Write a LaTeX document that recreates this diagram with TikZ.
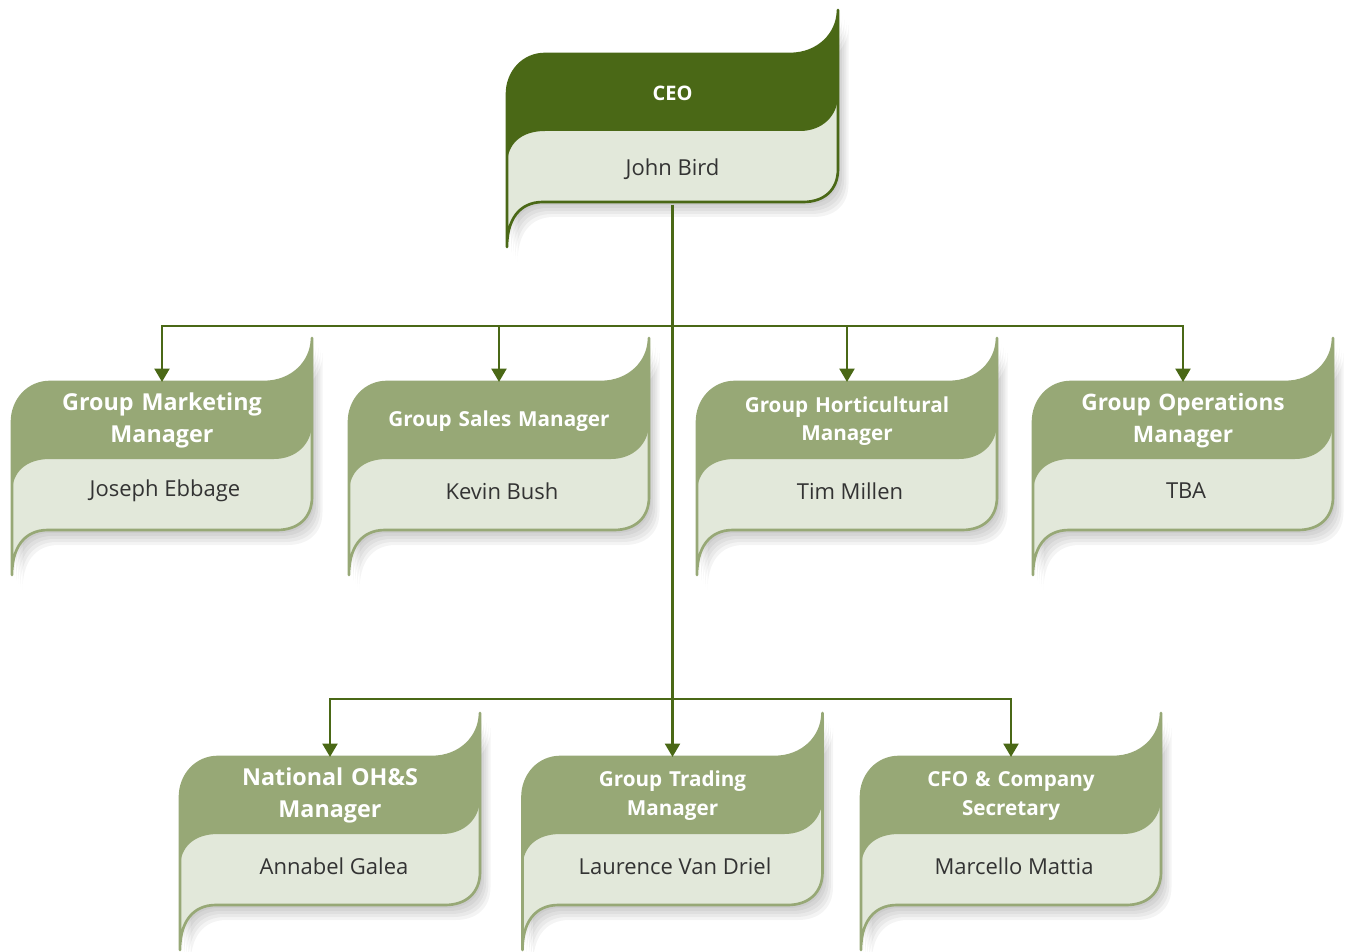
\documentclass[tikz,border=0pt]{standalone}
\usepackage{fontspec}
\setmainfont{Open Sans}
\usetikzlibrary{arrows.meta}
\definecolor{leafdark}{HTML}{4A6816}
\definecolor{leafsage}{HTML}{97A876}
\definecolor{leafpale}{HTML}{E2E8DA}
\definecolor{nametext}{HTML}{333333}
\tikzset{
  flag outline/.style={insert path={(0,193) -- (0,40) .. controls (0,18) and (16,0) .. (38,0) -- ({#1-48},0) .. controls ({#1-20},0) and (#1,-20) .. (#1,-44) -- (#1,115) .. controls (#1,136) and ({#1-14},148) .. ({#1-35},148) -- (36,148) .. controls (12,148) and (0,166) .. (0,193) -- cycle}},
  flag head/.style={insert path={(0,111) -- (0,40) .. controls (0,18) and (16,0) .. (38,0) -- ({#1-48},0) .. controls ({#1-20},0) and (#1,-20) .. (#1,-44) -- (#1,41) .. controls (#1,62) and ({#1-16},77) .. ({#1-38},77) -- (38,77) .. controls (14,77) and (0,90) .. (0,111) -- cycle}},
  title/.style={text=white, align=center, anchor=north, minimum height=57.75pt, text width=200pt, inner sep=0pt},
  person/.style={text=nametext, anchor=north, minimum height=53.25pt, inner sep=0pt, font=\fontsize{16.5}{20}\selectfont},
  link/.style={draw=leafdark, line width=2.2pt},
  linkarrow/.style={link, -{Triangle[length=10pt,width=11pt]}}
}
\newcommand{\orgflag}[5]{%
  \begin{scope}[shift={(#1,#2)}]
    \foreach \sh in {3,6,9,12,15}
      \fill[black, opacity=0.045, shift={(0.7*\sh,\sh)}, flag outline=#3];
    \fill[leafpale, flag outline=#3];
    \fill[#4, flag head=#3];
    \draw[#5, line width=2pt, line join=round, flag outline=#3];
  \end{scope}}

\begin{document}
\begin{tikzpicture}[x=0.75pt,y=-0.75pt]
\useasboundingbox (0,0) rectangle (1346,952);
\orgflag{507}{54}{331}{leafdark}{leafdark}
\orgflag{12}{382}{300}{leafsage}{leafsage}
\orgflag{349}{382}{300}{leafsage}{leafsage}
\orgflag{697}{382}{300}{leafsage}{leafsage}
\orgflag{1033}{382}{300}{leafsage}{leafsage}
\orgflag{180}{757}{300}{leafsage}{leafsage}
\orgflag{522.5}{757}{300}{leafsage}{leafsage}
\orgflag{861}{757}{300}{leafsage}{leafsage}
\node[title, font=\fontsize{15}{18}\selectfont\bfseries] (ceo) at (672.5,55) {CEO};
\node[person] (bird) at (672.5,133) {John Bird};
\node[title, font=\fontsize{17.5}{24}\selectfont\bfseries] (mkt) at (162,382) {Group Marketing\\Manager};
\node[person] (ebbage) at (165,455) {Joseph Ebbage};
\node[title, font=\fontsize{15.5}{20}\selectfont\bfseries] (sales) at (499,382) {Group Sales Manager};
\node[person] (bush) at (502,455) {Kevin Bush};
\node[title, font=\fontsize{15.5}{21}\selectfont\bfseries] (hort) at (847,382) {Group Horticultural\\Manager};
\node[person] (millen) at (850,455) {Tim Millen};
\node[title, font=\fontsize{17}{24}\selectfont\bfseries] (ops) at (1183,382) {Group Operations\\Manager};
\node[person] (tba) at (1186,455) {TBA};
\node[title, font=\fontsize{17.5}{24}\selectfont\bfseries] (ohs) at (330,757) {National OH\&S\\Manager};
\node[person] (galea) at (334,830) {Annabel Galea};
\node[title, font=\fontsize{15.5}{22}\selectfont\bfseries] (trade) at (672.5,757) {Group Trading\\Manager};
\node[person] (driel) at (675,830) {Laurence Van Driel};
\node[title, font=\fontsize{15.5}{22}\selectfont\bfseries] (cfo) at (1011,757) {CFO \& Company\\Secretary};
\node[person] (mattia) at (1014,830) {Marcello Mattia};
\coordinate (split1) at (672.5,326);
\coordinate (split2) at (672.5,699);
\path[link] (bird.south) -- (split2);
\path[linkarrow] (split1) -| (mkt.north);
\path[linkarrow] (split1) -| (sales.north);
\path[linkarrow] (split1) -| (hort.north);
\path[linkarrow] (split1) -| (ops.north);
\path[linkarrow] (split2) -| (ohs.north);
\path[linkarrow] (split2) -- (trade.north);
\path[linkarrow] (split2) -| (cfo.north);
\end{tikzpicture}
\end{document}
